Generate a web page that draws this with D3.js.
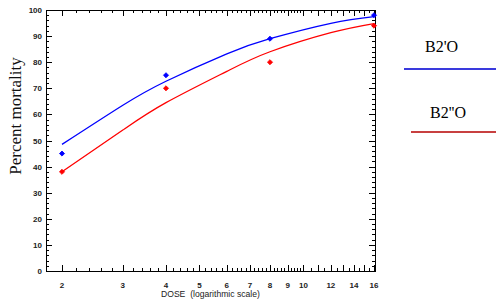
<!DOCTYPE html>
<html>
<head>
<meta charset="utf-8">
<script src="https://cdn.jsdelivr.net/npm/d3@7"></script>
<style>
body { margin: 0; background: #fff; }
</style>
</head>
<body>
<svg id="chart" width="500" height="302"></svg>
<script>
// observed points
const doses = [2, 4, 8, 16]
const bluePts = [45, 75, 89, 98]
const redPts = [38, 70, 80, 94]

// fitted curves
const curveDoses = [2, 3, 4, 6, 8, 12, 16]
const blueCurve = [48.5, 63.5, 72.7, 83.2, 89, 94.9, 97.5]
const redCurve = [38, 54, 64.5, 76.5, 84, 91.3, 94.8]

const xTickLabels = [2, 3, 4, 5, 6, 7, 8, 9, 10, 12, 14, 16]
const yTickLabels = [0, 10, 20, 30, 40, 50, 60, 70, 80, 90, 100]
const seriesNames = ["B2'O", "B2''O"]

const svg = d3.select('#chart')
const frameL = 46, frameR = 375, frameT = 10, frameB = 271

const xScale = d3.scaleLog().base(2).domain([2, 16]).range([62, 374])
const yScale = d3.scaleLinear().domain([0, 100]).range([frameB, frameT])

// frame
svg.append('rect')
	.attr('x', frameL + 0.5).attr('y', frameT + 0.5)
	.attr('width', frameR - frameL).attr('height', frameB - frameT)
	.attr('fill', 'none').attr('stroke', '#000').attr('stroke-width', 1)

// x ticks (major at integers, minor every 0.2 to 10, then 0.5)
const xMinor = []
for (let v = 2; v <= 10.001; v += 0.2) xMinor.push(+v.toFixed(1))
for (let v = 10.5; v <= 16; v += 0.5) xMinor.push(v)
const xMajor = d3.range(2, 17)

const tickG = svg.append('g').attr('stroke', '#000').attr('stroke-width', 1)
xMinor.forEach(v => {
	const isMajor = xMajor.includes(v)
	const len = isMajor ? 6 : 3
	const x = Math.round(xScale(v)) + 0.5
	tickG.append('line').attr('x1', x).attr('x2', x).attr('y1', frameB).attr('y2', frameB - len)
	tickG.append('line').attr('x1', x).attr('x2', x).attr('y1', frameT).attr('y2', frameT + len)
})

// y ticks
for (let v = 0; v <= 100; v += 2) {
	const isMajor = v % 10 == 0
	const len = isMajor ? 6 : 3
	const y = Math.round(yScale(v)) + 0.5
	tickG.append('line').attr('x1', frameL).attr('x2', frameL + len).attr('y1', y).attr('y2', y)
	tickG.append('line').attr('x1', frameR).attr('x2', frameR - len).attr('y1', y).attr('y2', y)
}

svg.append('g').selectAll('text')
	.data(xTickLabels)
	.enter().append('text')
	.attr('x', d => xScale(d))
	.attr('y', frameB + 17)
	.attr('text-anchor', 'middle')
	.attr('font-family', 'Liberation Sans, Arial, sans-serif')
	.attr('font-size', 8)
	.attr('font-weight', 'bold')
	.attr('fill', '#222')
	.text(d => d)

svg.append('g').selectAll('text')
	.data(yTickLabels)
	.enter().append('text')
	.attr('x', frameL - 4)
	.attr('y', d => yScale(d) + 3)
	.attr('text-anchor', 'end')
	.attr('font-family', 'Liberation Sans, Arial, sans-serif')
	.attr('font-size', 8)
	.attr('font-weight', 'bold')
	.attr('fill', '#222')
	.text(d => d)

svg.append('text')
	.attr('x', 161).attr('y', 297)
	.attr('font-family', 'Liberation Sans, Arial, sans-serif')
	.attr('font-size', 8.6)
	.attr('fill', '#222')
	.attr('xml:space', 'preserve')
	.text('DOSE  (logarithmic scale)')

svg.append('text')
	.attr('transform', 'translate(21,116) rotate(-90)')
	.attr('text-anchor', 'middle')
	.attr('font-family', 'Liberation Serif, Times New Roman, serif')
	.attr('font-size', 17)
	.attr('fill', '#111')
	.text('Percent mortality')

// curves
const line = d3.line()
	.x(d => xScale(d[0]))
	.y(d => yScale(d[1]))
	.curve(d3.curveNatural)

const series = [
	{ curve: blueCurve, pts: bluePts, color: '#0000ff' },
	{ curve: redCurve, pts: redPts, color: '#ff0000' }
]

series.forEach(s => {
	svg.append('path')
		.datum(curveDoses.map((d, i) => [d, s.curve[i]]))
		.attr('d', line)
		.attr('fill', 'none')
		.attr('stroke', s.color)
		.attr('stroke-width', 1.3)

	svg.append('g').selectAll('path')
		.data(doses.map((d, i) => [d, s.pts[i]]))
		.enter().append('path')
		.attr('d', d3.symbol().type(d3.symbolSquare).size(13))
		.attr('transform', d => `translate(${xScale(d[0])},${yScale(d[1])}) rotate(45)`)
		.attr('fill', s.color)
		.attr('stroke', s.color)
		.attr('stroke-width', 0.8)
})

// legend
const legend = [
	{ name: seriesNames[0], tx: 425, ty: 52, x1: 404, x2: 496, ly: 69, color: '#3a3add' },
	{ name: seriesNames[1], tx: 430, ty: 118, x1: 411, x2: 496, ly: 132, color: '#c84040' }
]
legend.forEach(l => {
	svg.append('text')
		.attr('x', l.tx).attr('y', l.ty)
		.attr('font-family', 'Liberation Serif, Times New Roman, serif')
		.attr('font-size', 16)
		.attr('fill', '#000')
		.text(l.name)
	svg.append('line')
		.attr('x1', l.x1).attr('x2', l.x2)
		.attr('y1', l.ly).attr('y2', l.ly)
		.attr('stroke', l.color)
		.attr('stroke-width', 2)
})
</script>
</body>
</html>
